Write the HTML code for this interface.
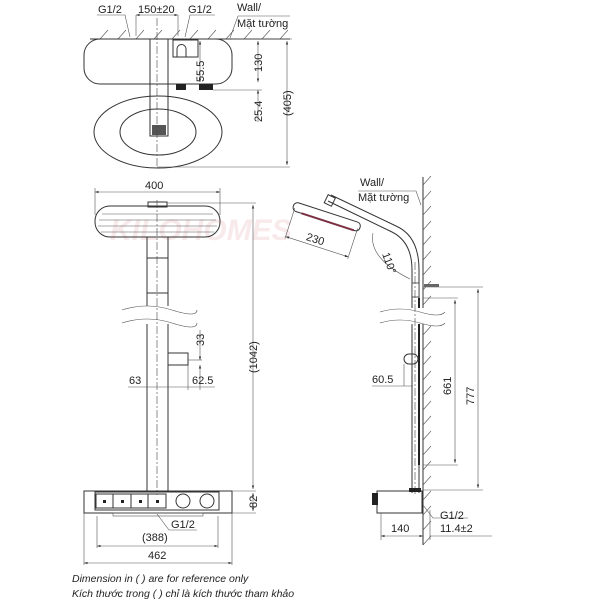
<!DOCTYPE html>
<html><head><meta charset="utf-8"><style>
body{margin:0;background:#fff}
svg{display:block}
text{font-family:"Liberation Sans",sans-serif;font-size:11px;fill:#222}
.l{stroke:#333;fill:none;stroke-width:1}
.t{stroke:#555;fill:none;stroke-width:.6}
.c{stroke:#444;fill:none;stroke-width:.6;stroke-dasharray:8 2 2 2}
</style></head><body>
<svg width="600" height="600" viewBox="0 0 600 600">
<defs><marker id="a" viewBox="0 0 6 6" refX="6" refY="3" markerWidth="6" markerHeight="6" orient="auto-start-reverse"><path d="M0,1 L6,3 L0,5" fill="#333"/></marker></defs>
<text x="110" y="240" style="font-size:30px;font-style:italic;font-weight:bold;fill:#f0d0d3;opacity:.45">KILOHOMES</text>

<!-- TOP VIEW -->
<line class="l" x1="90" y1="39" x2="290" y2="39"/>
<g class="t">
<path d="M100,39l8,-9M118,39l8,-9M136,39l8,-9M154,39l8,-9M172,39l8,-9M190,39l8,-9M208,39l8,-9M226,39l8,-9M244,39l8,-9M262,39l8,-9M280,39l8,-9"/>
</g>
<rect class="l" x="84" y="39" width="148" height="45" rx="16"/>
<rect class="l" x="150" y="39" width="18" height="97" fill="#fff"/>
<rect x="152" y="125" width="14" height="10" fill="#555"/>
<rect class="l" x="173" y="40" width="25" height="17" fill="#fff"/>
<path class="l" d="M177,57v-8a4,4 0 0 1 9,0v8"/>
<rect x="176" y="84" width="10" height="6" fill="#222"/>
<rect x="199" y="84" width="14" height="6" fill="#222"/>
<ellipse class="l" cx="158" cy="132" rx="64" ry="36"/>
<ellipse class="l" cx="158" cy="132" rx="38" ry="23"/>
<line class="c" x1="157" y1="18" x2="157" y2="168"/>
<text x="98" y="13">G1/2</text><text x="138" y="13">150±20</text><text x="188" y="13">G1/2</text>
<path class="t" d="M97,15h28l5,22M215,15h-25l-5,22"/>
<line class="t" x1="136" y1="15" x2="178" y2="15" marker-start="url(#a)" marker-end="url(#a)"/>
<line class="t" x1="136" y1="15" x2="136" y2="36"/><line class="t" x1="178" y1="15" x2="178" y2="36"/>
<text x="237" y="11">Wall/</text><text x="237" y="27">Mặt tường</text>
<path class="t" d="M290,16h-52l-8,22"/>
<line class="t" x1="232" y1="39" x2="292" y2="39"/>
<line class="t" x1="213" y1="90" x2="262" y2="90"/>
<line class="t" x1="200" y1="41" x2="200" y2="82" marker-start="url(#a)" marker-end="url(#a)"/>
<line class="t" x1="258" y1="41" x2="258" y2="82" marker-start="url(#a)" marker-end="url(#a)"/>
<line class="t" x1="258" y1="90" x2="258" y2="122" marker-start="url(#a)"/>
<line class="t" x1="287" y1="41" x2="287" y2="165" marker-start="url(#a)" marker-end="url(#a)"/>
<line class="t" x1="157" y1="167" x2="290" y2="167"/>
<text transform="translate(204,82) rotate(-90)">55.5</text>
<text transform="translate(262,72) rotate(-90)">130</text>
<text transform="translate(262,122) rotate(-90)">25.4</text>
<text transform="translate(291,116) rotate(-90)">(405)</text>

<!-- FRONT VIEW -->
<text x="145" y="189">400</text>
<line class="t" x1="95" y1="192" x2="220" y2="192" marker-start="url(#a)" marker-end="url(#a)"/>
<line class="t" x1="95" y1="188" x2="95" y2="215"/><line class="t" x1="220" y1="188" x2="220" y2="215"/>
<rect class="l" x="148" y="202" width="19" height="5"/>
<rect class="l" x="95" y="206" width="125" height="31" rx="15"/>
<g class="t"><path d="M102,214h111M99,220h117M98,226h119M101,232h113"/></g>
<line class="t" x1="167" y1="203" x2="256" y2="203"/>
<rect class="l" x="147" y="237" width="21" height="254"/>
<line class="l" x1="147" y1="258" x2="168" y2="258"/><line class="l" x1="147" y1="293" x2="168" y2="293"/>
<rect x="120" y="306" width="75" height="18" fill="#fff"/>
<path class="t" d="M122,310q25,-8 50,0t25,0M122,323q25,-8 50,0t25,0"/>
<line class="c" x1="157" y1="200" x2="157" y2="495"/>
<rect class="l" x="168" y="353" width="20" height="12"/>
<line class="t" x1="188" y1="360" x2="202" y2="360"/>
<line class="t" x1="200" y1="330" x2="200" y2="360" marker-end="url(#a)"/>
<line class="t" x1="200" y1="390" x2="200" y2="365" marker-end="url(#a)"/>
<text transform="translate(204,346) rotate(-90)">33</text>
<line class="t" x1="188" y1="365" x2="188" y2="390"/>
<line class="t" x1="128" y1="387" x2="215" y2="387"/>
<text x="129" y="384">63</text><text x="192" y="384">62.5</text>
<rect class="l" x="84" y="491" width="148" height="22"/>
<rect class="l" x="95" y="492" width="124" height="18"/>
<rect class="l" x="96" y="494" width="70" height="14"/>
<path class="l" d="M113,494v14M131,494v14M148,494v14"/>
<rect x="103" y="500" width="3" height="3" fill="#222"/><rect x="121" y="500" width="3" height="3" fill="#222"/><rect x="139" y="500" width="3" height="3" fill="#222"/><rect x="156" y="500" width="3" height="3" fill="#222"/>
<circle class="l" cx="183" cy="501" r="7"/><circle class="l" cx="207" cy="501" r="7"/>
<rect class="t" x="113" y="513" width="90" height="3"/>
<line class="t" x1="232" y1="491" x2="256" y2="491"/><line class="t" x1="232" y1="513" x2="256" y2="513"/>
<line class="t" x1="253" y1="205" x2="253" y2="489" marker-start="url(#a)" marker-end="url(#a)"/>
<line class="t" x1="253" y1="493" x2="253" y2="511" marker-start="url(#a)" marker-end="url(#a)"/>
<text transform="translate(257,373) rotate(-90)">(1042)</text>
<text transform="translate(257,508) rotate(-90)">82</text>
<path class="t" d="M157,514l12,16h28"/>
<text x="171" y="528">G1/2</text>
<text x="142" y="541">(388)</text>
<line class="t" x1="97" y1="546" x2="218" y2="546" marker-start="url(#a)" marker-end="url(#a)"/>
<text x="148" y="559">462</text>
<line class="t" x1="84" y1="563" x2="232" y2="563" marker-start="url(#a)" marker-end="url(#a)"/>
<path class="t" d="M84,513v52M232,513v52M97,516v32M218,516v32"/>
<text x="72" y="582" style="font-style:italic;font-size:10.5px">Dimension in ( ) are for reference only</text>
<text x="72" y="597" style="font-style:italic;font-size:10.5px">Kích thước trong ( ) chỉ là kích thước tham khảo</text>

<!-- SIDE VIEW -->
<line class="l" x1="423" y1="177" x2="423" y2="545"/>
<g class="t"><path d="M423,185l8,-9M423,200l8,-9M423,215l8,-9M423,230l8,-9M423,245l8,-9M423,260l8,-9M423,275l8,-9M423,290l8,-9M423,305l8,-9M423,320l8,-9M423,335l8,-9M423,350l8,-9M423,365l8,-9M423,380l8,-9M423,395l8,-9M423,410l8,-9M423,425l8,-9M423,440l8,-9M423,455l8,-9M423,470l8,-9M423,485l8,-9M423,500l8,-9M423,515l8,-9M423,530l8,-9M423,545l8,-9"/></g>
<text x="360" y="186">Wall/</text><text x="358" y="201">Mặt tường</text>
<path class="t" d="M358,191h58l5,14"/>
<path class="l" d="M412,493V270Q412,242 392,232L328,201M419,493V270Q419,236 396,226L331,195"/>
<rect class="l" x="326" y="196" width="8" height="9" transform="rotate(26 330 200)"/>
<g transform="rotate(18 325 222)">
<rect class="l" x="290" y="212" width="70" height="9" rx="4"/>
<line x1="300" y1="221" x2="355" y2="221" stroke="#7a3040" stroke-width="2"/>
<path class="t" d="M292,218v32M358,218v32"/>
<line class="t" x1="292" y1="248" x2="358" y2="248" marker-start="url(#a)" marker-end="url(#a)"/>
<text x="312" y="245">230</text>
</g>
<path class="t" d="M373,233q-5,25 37,46"/>
<text transform="translate(382,254) rotate(70)">110°</text>
<rect x="412" y="283" width="7" height="14" fill="#fff" stroke="#333" stroke-width=".8"/>
<line x1="419" y1="298" x2="419" y2="465" stroke="#222" stroke-width="2"/>
<rect x="395" y="308" width="40" height="16" fill="#fff"/>
<path class="t" d="M380,312q20,-6 40,0t25,0M380,323q20,-6 40,0t25,0"/>
<line class="c" x1="415" y1="262" x2="415" y2="495"/>
<rect class="l" x="404" y="354" width="14" height="10" rx="5"/>
<text x="372" y="383">60.5</text>
<path class="t" d="M404,364v22M372,386h41"/>
<path class="t" d="M423,287h60M423,298h35M423,465h35M423,490h60"/>
<rect x="424" y="284" width="15" height="3" fill="#666"/>
<line class="t" x1="455" y1="300" x2="455" y2="463" marker-start="url(#a)" marker-end="url(#a)"/>
<line class="t" x1="478" y1="289" x2="478" y2="488" marker-start="url(#a)" marker-end="url(#a)"/>
<text transform="translate(451,395) rotate(-90)">661</text>
<text transform="translate(474,405) rotate(-90)">777</text>
<rect class="l" x="377" y="491" width="45" height="22"/>
<rect x="372" y="493" width="6" height="12" fill="#222"/>
<rect x="409" y="488" width="12" height="4" fill="#222"/>
<path class="t" d="M423,505l10,13h35"/>
<text x="440" y="519">G1/2</text>
<path class="t" d="M381,513v27M430,510v30"/>
<line class="t" x1="381" y1="536" x2="423" y2="536" marker-start="url(#a)" marker-end="url(#a)"/>
<text x="391" y="532">140</text>
<line class="t" x1="430" y1="536" x2="492" y2="536"/>
<text x="440" y="532">11.4±2</text>
</svg>
</body></html>
